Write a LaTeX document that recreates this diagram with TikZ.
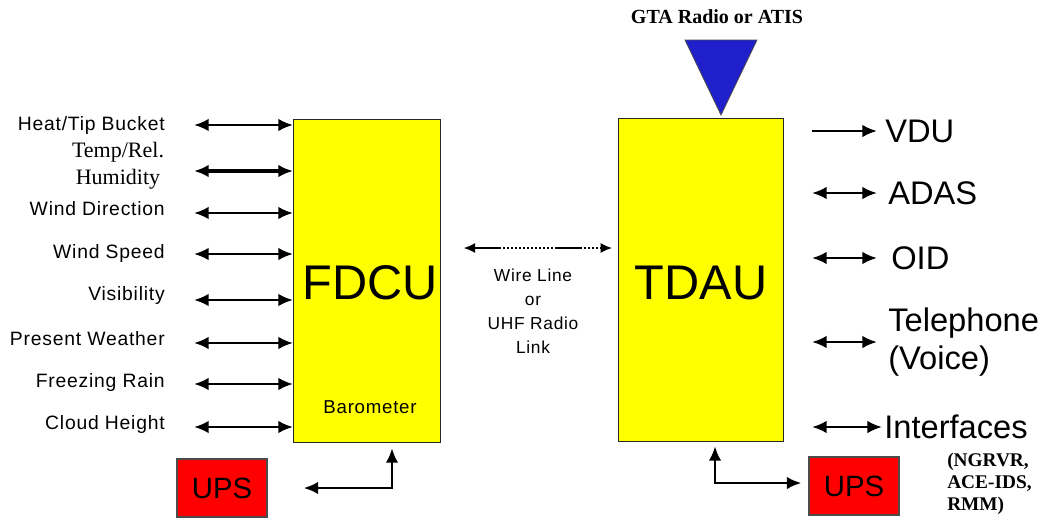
\documentclass[tikz,border=0pt]{standalone}
\usepackage{fontspec}
\setmainfont{Liberation Sans}
\newfontfamily\timesfont{Liberation Serif}
\newfontfamily\lblfont[LetterSpace=4]{Liberation Sans}
\usetikzlibrary{arrows.meta}

\begin{document}
\begin{tikzpicture}[x=0.75pt,y=-0.75pt,>={Latex[length=11pt,width=9.5pt]},
  unit/.style={draw=black!85,fill=unityellow,line width=0.8pt,inner sep=0pt,
    minimum height=242.25pt,font=\fontsize{36}{40}\selectfont},
  ups/.style={draw=black!70,fill=upsred,line width=0.8pt,inner sep=0pt,
    minimum width=67.5pt,minimum height=43.5pt,font=\fontsize{22}{24}\selectfont},
  sensor/.style={anchor=east,inner sep=0pt,font=\lblfont\fontsize{14.5}{16}\selectfont},
  output/.style={anchor=west,inner sep=0pt,align=left,font=\fontsize{24.5}{29}\selectfont},
  link/.style={line width=1.9pt},
  power/.style={line width=2.2pt}]

\definecolor{unityellow}{rgb}{1,1,0}
\definecolor{upsred}{rgb}{1,0,0}
\definecolor{antblue}{rgb}{0.12,0.12,0.8}

\useasboundingbox (0,0) rectangle (1048,525);

% main units
\node[unit,minimum width=110.25pt,anchor=north west] (fdcu) at (293,119) {};
\node[font=\fontsize{36.5}{40}\selectfont] (fdcutxt) at (370,283) {FDCU};
\node[font=\lblfont\fontsize{14}{16}\selectfont] (baro) at (370,407) {Barometer};
\node[unit,minimum width=123.75pt,anchor=north west] (tdau) at (618,118) {};
\node[font=\fontsize{36.5}{40}\selectfont] (tdautxt) at (701,283) {TDAU};

% antenna
\fill[color=antblue,draw=black!70,line width=0.6pt] (685,40)--(757,40)--(721,115)--cycle;
\node[font=\timesfont\bfseries\fontsize{15}{17}\selectfont] (gta) at (717,17) {GTA Radio or ATIS};

% sensors
\foreach \nm/\txt/\ty/\ay in {heat/{Heat/Tip Bucket}/125/125,wdir/{Wind Direction}/209/213,
  wspd/{Wind Speed}/253/254,vis/{Visibility}/295/300,pw/{Present Weather}/339/343,
  frz/{Freezing Rain}/382/384,cld/{Cloud Height}/424/427}{
	\node[sensor] (\nm) at (165,\ty) {\txt};
	\coordinate (\nm-a) at (194,\ay);
	\draw[link,<->] (\nm-a)--(\nm-a -| fdcu.west);
}
\node[inner sep=0pt,align=center,font=\timesfont\fontsize{16.5}{20.5}\selectfont] (temp) at (118,166) {Temp/Rel.\\Humidity};
\coordinate (temp-a) at (194,171);
\draw[link,<->,line width=2.3pt] (temp-a)--(temp-a -| fdcu.west);

% radio link
\coordinate (lk) at (463,248);
\draw[{Latex[length=8.5pt,width=7.5pt]}-{Latex[length=8.5pt,width=7.5pt]},line width=1pt,shorten <=17pt,shorten >=4.5pt,
  dash pattern=on 20pt off 1.5pt on 1.5pt off 1.5pt on 1.5pt off 1.5pt on 1.5pt off 1.5pt on 1.5pt off 1.5pt on 1.5pt off 1.5pt on 1.5pt off 1.5pt on 1.5pt off 1.5pt on 1.5pt off 1.5pt on 1.5pt off 1.5pt on 1.5pt off 1.5pt on 1.5pt off 1.5pt on 1.5pt off 1.5pt on 1.5pt off 1.5pt]
  (lk -| fdcu.east)--(lk -| tdau.west);
\node[align=center,font=\lblfont\fontsize{13}{18}\selectfont] (lktxt) at (533,311) {Wire Line\\or\\UHF Radio\\Link};

% outputs
\node[output] (vdu) at (885,131) {VDU};
\node[output] (adas) at (888,193) {ADAS};
\node[output] (oid) at (891,258) {OID};
\node[output] (tel) at (888,342) {Telephone\\(Voice)};
\node[output] (intf) at (884,427) {Interfaces};
\node[anchor=north west,inner sep=0pt,align=left,font=\timesfont\bfseries\fontsize{14.5}{16.5}\selectfont] (ifl) at (947,453) {(NGRVR,\\ACE-IDS,\\RMM)};

\draw[link,->,shorten >=6pt] (812,131)--(vdu.west);
\foreach \nm/\gap in {adas/8.25pt,oid/10.5pt,tel/8.25pt,intf/1.5pt}{
	\draw[link,<->,shorten >=\gap] (812,0 |- \nm.west)--(\nm.west);
}

% power
\node[ups] (upsl) at (222,488) {UPS};
\node[ups] (upsr) at (854,486) {UPS};
\coordinate (pwl) at (392,487);
\draw[power,<->,shorten <=27pt,shorten >=3.75pt] (upsl.east)--(upsl.east -| pwl)--(pwl |- fdcu.south);
\coordinate (pwr) at (715,483);
\draw[power,<->,shorten <=3pt,shorten >=5.25pt] (pwr |- tdau.south)--(pwr)--(pwr -| upsr.west);

\end{tikzpicture}
\end{document}
